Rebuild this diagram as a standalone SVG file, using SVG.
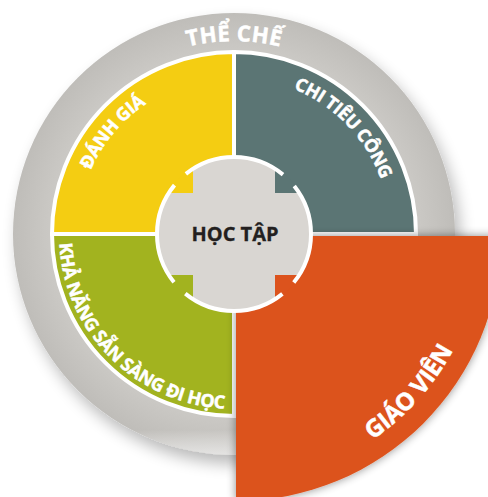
<svg xmlns="http://www.w3.org/2000/svg" width="488" height="497" viewBox="0 0 488 497">
<defs>
<style>
.lbl{font-family:"Open Sans","Noto Sans","Liberation Sans",sans-serif;font-weight:700;fill:#ffffff;stroke:#ffffff;stroke-width:0.5;}
.q{stroke:#ffffff;stroke-width:4;stroke-linejoin:miter}
</style>
<filter id="ringShadow" x="-20%" y="-20%" width="150%" height="150%">
<feGaussianBlur in="SourceAlpha" stdDeviation="8"/>
<feOffset dx="5" dy="9"/>
<feComponentTransfer><feFuncA type="linear" slope="0.28"/></feComponentTransfer>
<feMerge><feMergeNode/><feMergeNode in="SourceGraphic"/></feMerge>
</filter>
<filter id="oShadow" x="-20%" y="-20%" width="150%" height="150%">
<feGaussianBlur in="SourceAlpha" stdDeviation="5"/>
<feComponentTransfer><feFuncA type="linear" slope="0.45"/></feComponentTransfer>
<feMerge><feMergeNode/><feMergeNode in="SourceGraphic"/></feMerge>
</filter>
<radialGradient id="ringGrad" cx="0.5" cy="0.5" r="0.5">
<stop offset="0.84" stop-color="#cac8c4"/>
<stop offset="1" stop-color="#bfbdb9"/>
</radialGradient>
<linearGradient id="ringFade" gradientUnits="userSpaceOnUse" x1="0" y1="196" x2="0" y2="222">
<stop offset="0" stop-color="#ffffff" stop-opacity="0"/>
<stop offset="1" stop-color="#f2f2f2" stop-opacity="0.75"/>
</linearGradient>
<path id="pTop" d="M-96.5,-167.1 A193,193 0 0 1 96.5,-167.1"/>
<path id="pY" d="M-154.1,-30 A157,157 0 0 1 -56.3,-146.6"/>
<path id="pT" d="M43.3,-150.9 A157,157 0 0 1 152.3,-38"/>
<path id="pG" d="M-174.3,-15.3 A175,175 0 0 0 15.3,174.3"/>
<path id="pO" d="M84.8,233 A248,248 0 0 0 240.6,60"/>
</defs>
<g transform="translate(234,234)">
<g id="the-che">
<circle r="221" fill="url(#ringGrad)" filter="url(#ringShadow)"/>
<circle r="221" fill="url(#ringFade)"/>
<text class="lbl" font-size="22"><textPath href="#pTop" startOffset="50%" text-anchor="middle" textLength="93">THỂ CHẾ</textPath></text>
</g>
<g id="danh-gia">
<path class="q" fill="#f4cd12" d="M0,0 L-182,0 A182,182 0 0 1 0,-182 Z"/>
<text class="lbl" font-size="18"><textPath href="#pY" startOffset="50%" text-anchor="middle" textLength="88">ĐÁNH GIÁ</textPath></text>
</g>
<g id="chi-tieu-cong">
<path class="q" fill="#5b7574" d="M0,0 L0,-182 A182,182 0 0 1 182,0 Z"/>
<text class="lbl" font-size="18"><textPath href="#pT" startOffset="50%" text-anchor="middle" textLength="130">CHI TIÊU CÔNG</textPath></text>
</g>
<g id="kha-nang">
<path class="q" fill="#a2b31f" d="M0,0 L0,182 A182,182 0 0 1 -182,0 Z"/>
<text class="lbl" font-size="18"><textPath href="#pG" startOffset="50%" text-anchor="middle" textLength="256">KHẢ NĂNG SẴN SÀNG ĐI HỌC</textPath></text>
</g>
<g id="giao-vien">
<path fill="#dc531d" filter="url(#oShadow)" d="M2,2 L267,2 A265,265 0 0 1 2,267 Z"/>
<text class="lbl" font-size="24"><textPath href="#pO" startOffset="50%" text-anchor="middle" textLength="122">GIÁO VIÊN</textPath></text>
</g>
<g id="hoc-tap">
<circle r="77" fill="#d9d6d2"/>
<g id="connectors">
<path fill="#f4cd12" d="M-41,-41 L-41,-66.4 A78,78 0 0 0 -66.4,-41 Z"/>
<path fill="#5b7574" d="M41,-41 L66.4,-41 A78,78 0 0 0 41,-66.4 Z"/>
<path fill="#a2b31f" d="M-41,41 L-66.4,41 A78,78 0 0 0 -41,66.4 Z"/>
<path fill="#dc531d" d="M41,41 L41,66.4 A78,78 0 0 0 66.4,41 Z"/>
</g>
<circle r="77" fill="none" stroke="#ffffff" stroke-width="4" stroke-dasharray="104.95 16" stroke-dashoffset="52.47"/>
<text x="1" y="7" text-anchor="middle" font-family="'Open Sans','Noto Sans','Liberation Sans',sans-serif" font-weight="700" font-size="20" fill="#231f20" stroke="#231f20" stroke-width="0.3">HỌC TẬP</text>
</g>
</g>
</svg>
